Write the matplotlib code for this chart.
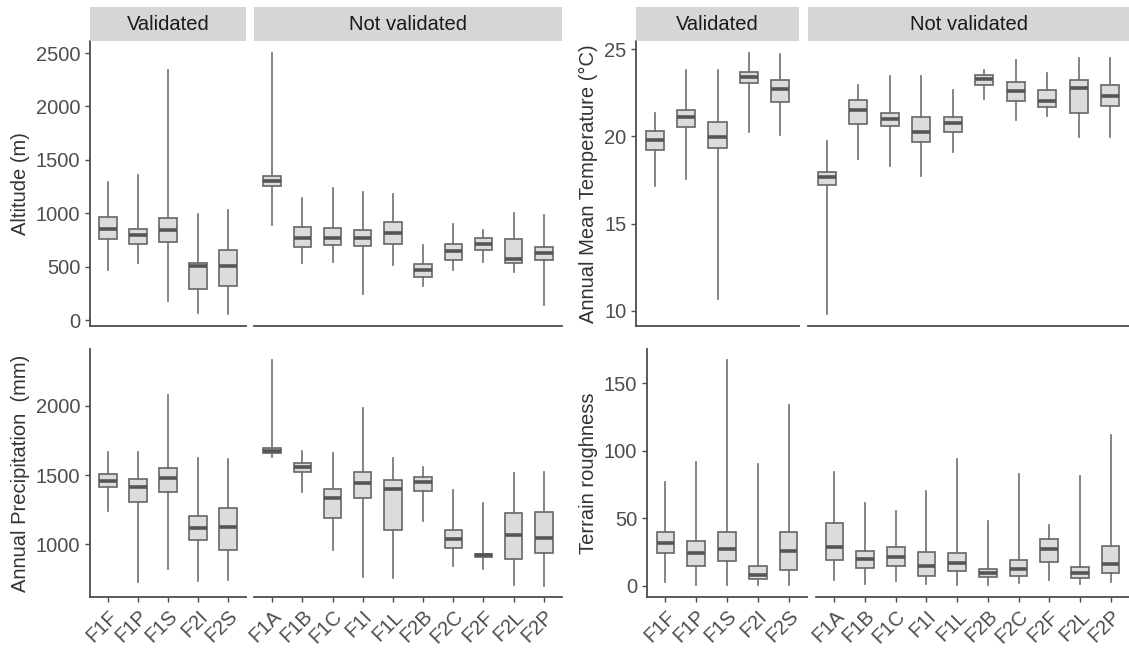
import matplotlib
matplotlib.use('Agg')
import matplotlib.pyplot as plt

plt.rcParams['font.family'] = ['Liberation Sans', 'DejaVu Sans']

# categories
val_cats = ['F1F', 'F1P', 'F1S', 'F2I', 'F2S']
nv_cats = ['F1A', 'F1B', 'F1C', 'F1I', 'F1L', 'F2B', 'F2C', 'F2F', 'F2L', 'F2P']

# box stats per category: [low whisker, q1, median, q3, high whisker]
alt_val = [[464, 761, 855, 965, 1294], [536, 714, 793, 855, 1357],
           [182, 730, 840, 959, 2343], [66, 291, 504, 536, 990],
           [56, 323, 504, 658, 1034]]
alt_nv = [[887, 1256, 1303, 1350, 2500], [536, 683, 771, 871, 1147],
          [542, 699, 771, 862, 1241], [244, 692, 771, 840, 1200],
          [511, 714, 818, 918, 1184], [323, 407, 470, 520, 699],
          [464, 564, 645, 714, 902], [542, 658, 714, 768, 846],
          [454, 533, 573, 761, 1003], [144, 558, 627, 683, 981]]

temp_val = [[17.16, 19.22, 19.80, 20.33, 21.33], [17.56, 20.56, 21.10, 21.52, 23.78],
            [10.71, 19.32, 19.99, 20.81, 23.78], [20.27, 23.05, 23.39, 23.66, 24.77],
            [20.08, 21.96, 22.70, 23.24, 24.71]]
temp_nv = [[9.85, 17.21, 17.69, 17.94, 19.76], [18.71, 20.70, 21.52, 22.09, 22.95],
           [18.32, 20.62, 21.00, 21.33, 23.43], [17.75, 19.66, 20.27, 21.10, 23.47],
           [19.13, 20.24, 20.75, 21.10, 22.67], [22.15, 22.95, 23.28, 23.53, 23.81],
           [20.94, 22.00, 22.57, 23.14, 24.39], [21.17, 21.67, 22.00, 22.63, 23.62],
           [19.99, 21.33, 22.76, 23.24, 24.48], [19.99, 21.71, 22.32, 22.95, 24.48]]

prec_val = [[1242, 1411, 1459, 1507, 1669], [727, 1307, 1411, 1471, 1669],
            [824, 1379, 1476, 1553, 2080], [732, 1029, 1114, 1203, 1621],
            [739, 957, 1121, 1259, 1614]]
prec_nv = [[1628, 1662, 1676, 1693, 2333], [1379, 1519, 1560, 1589, 1674],
           [957, 1186, 1336, 1399, 1657], [763, 1331, 1440, 1519, 1983],
           [756, 1106, 1396, 1464, 1621], [1169, 1387, 1452, 1483, 1560],
           [843, 974, 1041, 1102, 1391], [824, 908, 920, 932, 1295],
           [708, 891, 1070, 1227, 1517], [698, 940, 1046, 1230, 1524]]

rough_val = [[3.0, 24.5, 31.9, 39.6, 77.2], [0.5, 14.9, 24.5, 33.4, 92.1],
             [0.5, 18.6, 27.2, 39.6, 167.6], [0.5, 5.0, 7.9, 14.6, 90.3],
             [0.5, 12.1, 26.0, 40.1, 133.7]]
rough_nv = [[4.7, 19.1, 28.5, 46.8, 84.6], [1.2, 13.6, 19.8, 25.7, 61.6],
            [3.5, 14.9, 21.5, 28.5, 55.4], [1.7, 7.2, 14.6, 25.2, 70.5],
            [0.5, 10.9, 17.3, 24.5, 93.8], [0.5, 6.4, 9.7, 12.6, 48.0],
            [2.5, 7.4, 12.9, 19.1, 82.7], [4.7, 17.8, 27.7, 35.1, 45.0],
            [1.2, 5.9, 9.9, 14.1, 81.7], [3.0, 9.7, 16.6, 29.7, 111.9]]

W, H = 1129, 648
fig = plt.figure(figsize=(W / 100, H / 100), dpi=100)

AX_COL = '#4d4d4d'
TXT_COL = '#4d4d4d'


def px_axes(x0, x1, y0, y1):
    return fig.add_axes([x0 / W, 1 - y1 / H, (x1 - x0) / W, (y1 - y0) / H])


def draw_boxes(ax, cats, rows):
    stats = [dict(whislo=r[0], q1=r[1], med=r[2], q3=r[3], whishi=r[4], fliers=[])
             for r in rows]
    ax.bxp(stats, positions=range(1, len(cats) + 1), widths=0.58,
           showfliers=False, showcaps=False, patch_artist=True,
           boxprops=dict(facecolor='#dcdcdc', edgecolor='#666666', linewidth=1.2),
           whiskerprops=dict(color='#6e6e6e', linewidth=1.2),
           medianprops=dict(color='#555555', linewidth=2.6))
    ax.set_xlim(0.4, len(cats) + 0.6)
    ax.set_xticks(range(1, len(cats) + 1))


def strip(x0, x1, label):
    sax = px_axes(x0, x1, 7, 41)
    sax.set_facecolor('#d6d6d6')
    for s in sax.spines.values():
        s.set_visible(False)
    sax.set_xticks([])
    sax.set_yticks([])
    sax.text(0.5, 0.5, label, ha='center', va='center', fontsize=14.5,
             color='#1a1a1a', transform=sax.transAxes)


def panel(xv, xn, yy, val, nv, ylim, yticks, ylabel, bottom_row, top_row):
    axv = px_axes(xv[0], xv[1], yy[0], yy[1])
    axn = px_axes(xn[0], xn[1], yy[0], yy[1])
    draw_boxes(axv, val_cats, val)
    draw_boxes(axn, nv_cats, nv)
    for ax in (axv, axn):
        ax.set_ylim(*ylim)
        ax.spines['top'].set_visible(False)
        ax.spines['right'].set_visible(False)
        ax.spines['bottom'].set_color(AX_COL)
        ax.spines['bottom'].set_linewidth(1.3)
        ax.spines['left'].set_color(AX_COL)
        ax.spines['left'].set_linewidth(1.3)
        ax.tick_params(colors=AX_COL, labelcolor=TXT_COL, labelsize=14.5,
                       length=3.5, width=1.0)
    axv.set_yticks(yticks)
    axv.set_ylabel(ylabel, fontsize=14.5, color='#333333')
    axn.spines['left'].set_visible(False)
    axn.set_yticks([])
    if bottom_row:
        axv.set_xticklabels(val_cats, rotation=45, ha='right', va='top',
                            rotation_mode='anchor')
        axn.set_xticklabels(nv_cats, rotation=45, ha='right', va='top',
                            rotation_mode='anchor')
    else:
        for ax in (axv, axn):
            ax.tick_params(axis='x', length=0, labelbottom=False)
    if top_row:
        strip(xv[0], xv[1], 'Validated')
        strip(xn[0], xn[1], 'Not validated')
    return axv


panel((90, 246), (254, 562), (41, 326), alt_val, alt_nv, (-56, 2613),
      [0, 500, 1000, 1500, 2000, 2500], 'Altitude (m)', False, True)
panel((636, 799), (808, 1129), (41, 326), temp_val, temp_nv, (9.14, 25.46),
      [10, 15, 20, 25], 'Annual Mean Temperature (\u00b0C)', False, True)
panel((90, 246), (254, 562), (349, 597), prec_val, prec_nv, (619, 2410),
      [1000, 1500, 2000], 'Annual Precipitation  (mm)', True, False)
panel((647, 807), (816, 1129), (349, 597), rough_val, rough_nv, (-8.2, 175.5),
      [0, 50, 100, 150], 'Terrain roughness', True, False)

fig.savefig('out.png', dpi=100, facecolor='white')
